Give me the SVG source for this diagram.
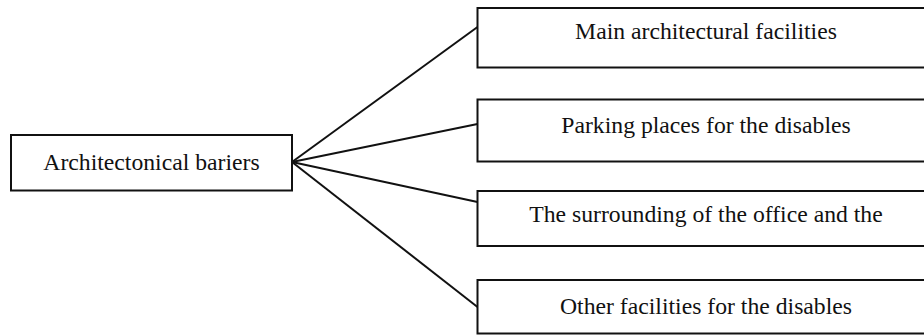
<svg xmlns="http://www.w3.org/2000/svg" width="924" height="335" viewBox="0 0 924 335">
<style>
.box{fill:#fff;stroke:#111;stroke-width:2}
.lbl{font-size:23.7px;fill:#111;text-anchor:middle}
.conn{stroke:#111;stroke-width:2;fill:none}
</style>
<rect width="924" height="335" fill="#fff"/>
<g id="connectors">
<line class="conn" x1="292" y1="162" x2="477.5" y2="27"/>
<line class="conn" x1="292" y1="162" x2="477.5" y2="124"/>
<line class="conn" x1="292" y1="162" x2="477.5" y2="202"/>
<line class="conn" x1="292" y1="162" x2="477.5" y2="307"/>
</g>
<g font-family="'Liberation Serif', 'Times New Roman', Times, serif">
<g id="root">
<rect class="box" x="11" y="135" width="281" height="55.5"/>
<text class="lbl" x="151.5" y="169.5">Architectonical bariers</text>
</g>
<g id="n1">
<rect class="box" x="477.5" y="8" width="460" height="59.5"/>
<text class="lbl" x="706" y="39">Main architectural facilities</text>
</g>
<g id="n2">
<rect class="box" x="477.5" y="99.5" width="460" height="62"/>
<text class="lbl" x="706" y="133">Parking places for the disables</text>
</g>
<g id="n3">
<rect class="box" x="477.5" y="191" width="460" height="55"/>
<text class="lbl" x="706" y="222">The surrounding of the office and the</text>
</g>
<g id="n4">
<rect class="box" x="477.5" y="280" width="460" height="53.5"/>
<text class="lbl" x="706" y="314">Other facilities for the disables</text>
</g>
</g>
</svg>
